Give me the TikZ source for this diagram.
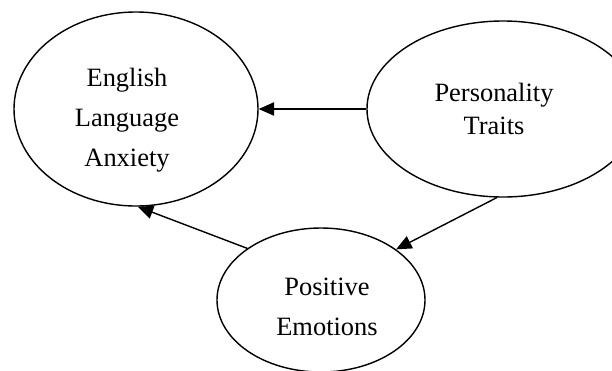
\documentclass[tikz,border=0pt]{standalone}
\usepackage{fontspec}
\setmainfont{Liberation Serif}
\usepackage{tikz}
\usetikzlibrary{shapes.geometric,arrows.meta}

\begin{document}
\begin{tikzpicture}[x=0.025cm,y=-0.025cm,
		oval/.style={draw,ellipse,line width=1pt,inner sep=0pt},
		words/.style={align=center,inner sep=0pt,font=\fontsize{18.8}{#1}\selectfont},
		link/.style={line width=1pt,-{Triangle[length=11pt,width=9.5pt]}}]
	\useasboundingbox (0,0) rectangle (612,370);
	% ovals, text set as centre labels
	\node[oval,minimum width=244*0.025cm,minimum height=194*0.025cm,
		label={[words=28.4pt,xshift=-0.225cm,yshift=-0.275cm]center:English\\Language\\Anxiety}] (ela) at (136,109) {};
	\node[oval,minimum width=272*0.025cm,minimum height=176*0.025cm,
		label={[words=24.1pt,xshift=-0.225cm,yshift=0cm]center:Personality\\Traits}] (pt) at (503,109) {};
	\node[oval,minimum width=208*0.025cm,minimum height=144*0.025cm,
		label={[words=28.4pt,xshift=0.15cm,yshift=-0.175cm]center:Positive\\Emotions}] (pe) at (321,300) {};
	\draw[link] (pt.west) -- (ela.east);
	\draw[link] (pe.145) -- (ela.-89);
	\draw[link] (pt.-94) -- (pe.34);
\end{tikzpicture}
\end{document}
